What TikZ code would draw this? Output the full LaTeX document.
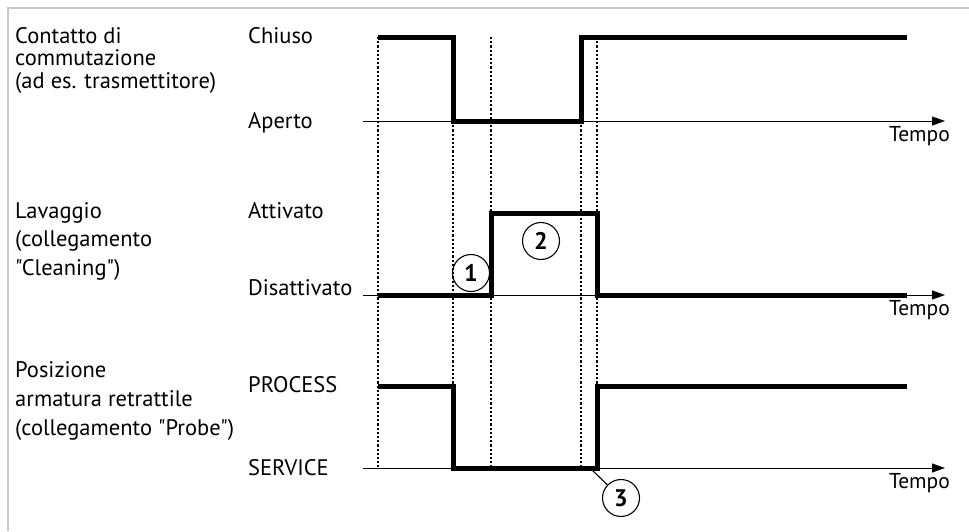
\documentclass[tikz,border=0pt]{standalone}
\usepackage{fontspec}
\setmainfont{PT Sans}[Ligatures=TeXOff]
\usetikzlibrary{arrows.meta}

\begin{document}
\begin{tikzpicture}[x=1pt,y=1pt,yscale=-1,xscale=1,
  frame/.style={color={rgb, 255:red, 200; green, 200; blue, 200 },line width=2pt},
  signal/.style={line width=5pt,line join=miter},
  axis/.style={line width=1pt,-{Triangle[length=13pt,width=9pt]}},
  guide/.style={line width=2.2pt,dash pattern=on 2.2pt off 2pt},
  num/.style={circle,draw,line width=1.1pt,minimum size=37pt,inner sep=0pt,font=\fontsize{24}{24}\selectfont\bfseries},
  lbl/.style={anchor=base west,inner sep=0pt,font=\fontsize{22.5}{26}\selectfont},
  tlbl/.style={anchor=base east,inner sep=0pt,font=\fontsize{21.5}{26}\selectfont}]
\useasboundingbox (0,0) rectangle (969,531);

%Straight Lines: frame
\draw [frame] (8,531) -- (8,8) -- (969,8) ;

%Straight Lines: dotted guides
\foreach \gx in {378,453,491,581,597}
  \draw [guide] (\gx,37) -- (\gx,467) ;

%Straight Lines: time axes
\draw [axis] (363,121) -- (945,121) ;
\draw [axis] (363,295) -- (945,295) ;
\draw [axis] (363,468) -- (945,468) ;

%Shape: switching contact
\draw [signal] (378,37) -- (453,37) -- (453,121) -- (581,121) -- (581,37) -- (907,37) ;
%Shape: cleaning
\draw [signal] (378,295) -- (491,295) -- (491,213) -- (597,213) -- (597,295) -- (907,295) ;
%Shape: probe position
\draw [signal] (378,386) -- (453,386) -- (453,468) -- (597,468) -- (597,386) -- (907,386) ;

%Shape: Circle
\node [num] (n1) at (471,273) {1};
\node [num] (n2) at (541,241) {2};
\node [num] (n3) at (621,498) {3};
\coordinate (p3) at (592,470);
\draw [line width=1.1pt] (n3) -- (p3) ;

% Text Node
\node [lbl] (t1a) at (15,43) {Contatto di};
\node [lbl] (t1b) at (15,65.5) {commutazione};
\node [lbl] (t1c) at (15,88) {(ad es. trasmettitore)};
\node [lbl] (chiuso) at (248,43) {Chiuso};
\node [lbl] (aperto) at (248,128) {Aperto};
\node [tlbl] (tempo1) at (950,141) {Tempo};
% Text Node
\node [lbl] (t2a) at (15,218) {Lavaggio};
\node [lbl] (t2b) at (15,246.5) {(collegamento};
\node [lbl] (t2c) at (15,275) {"Cleaning")};
\node [lbl] (attivato) at (248,218) {Attivato};
\node [lbl] (disattivato) at (248,295) {Disattivato};
\node [tlbl] (tempo2) at (950,315) {Tempo};
% Text Node
\node [lbl] (t3a) at (15,377) {Posizione};
\node [lbl] (t3b) at (15,406) {armatura retrattile};
\node [lbl] (t3c) at (15,435) {(collegamento "Probe")};
\node [lbl] (process) at (248,392) {PROCESS};
\node [lbl] (service) at (248,475) {SERVICE};
\node [tlbl] (tempo3) at (950,488) {Tempo};

\end{tikzpicture}
\end{document}
